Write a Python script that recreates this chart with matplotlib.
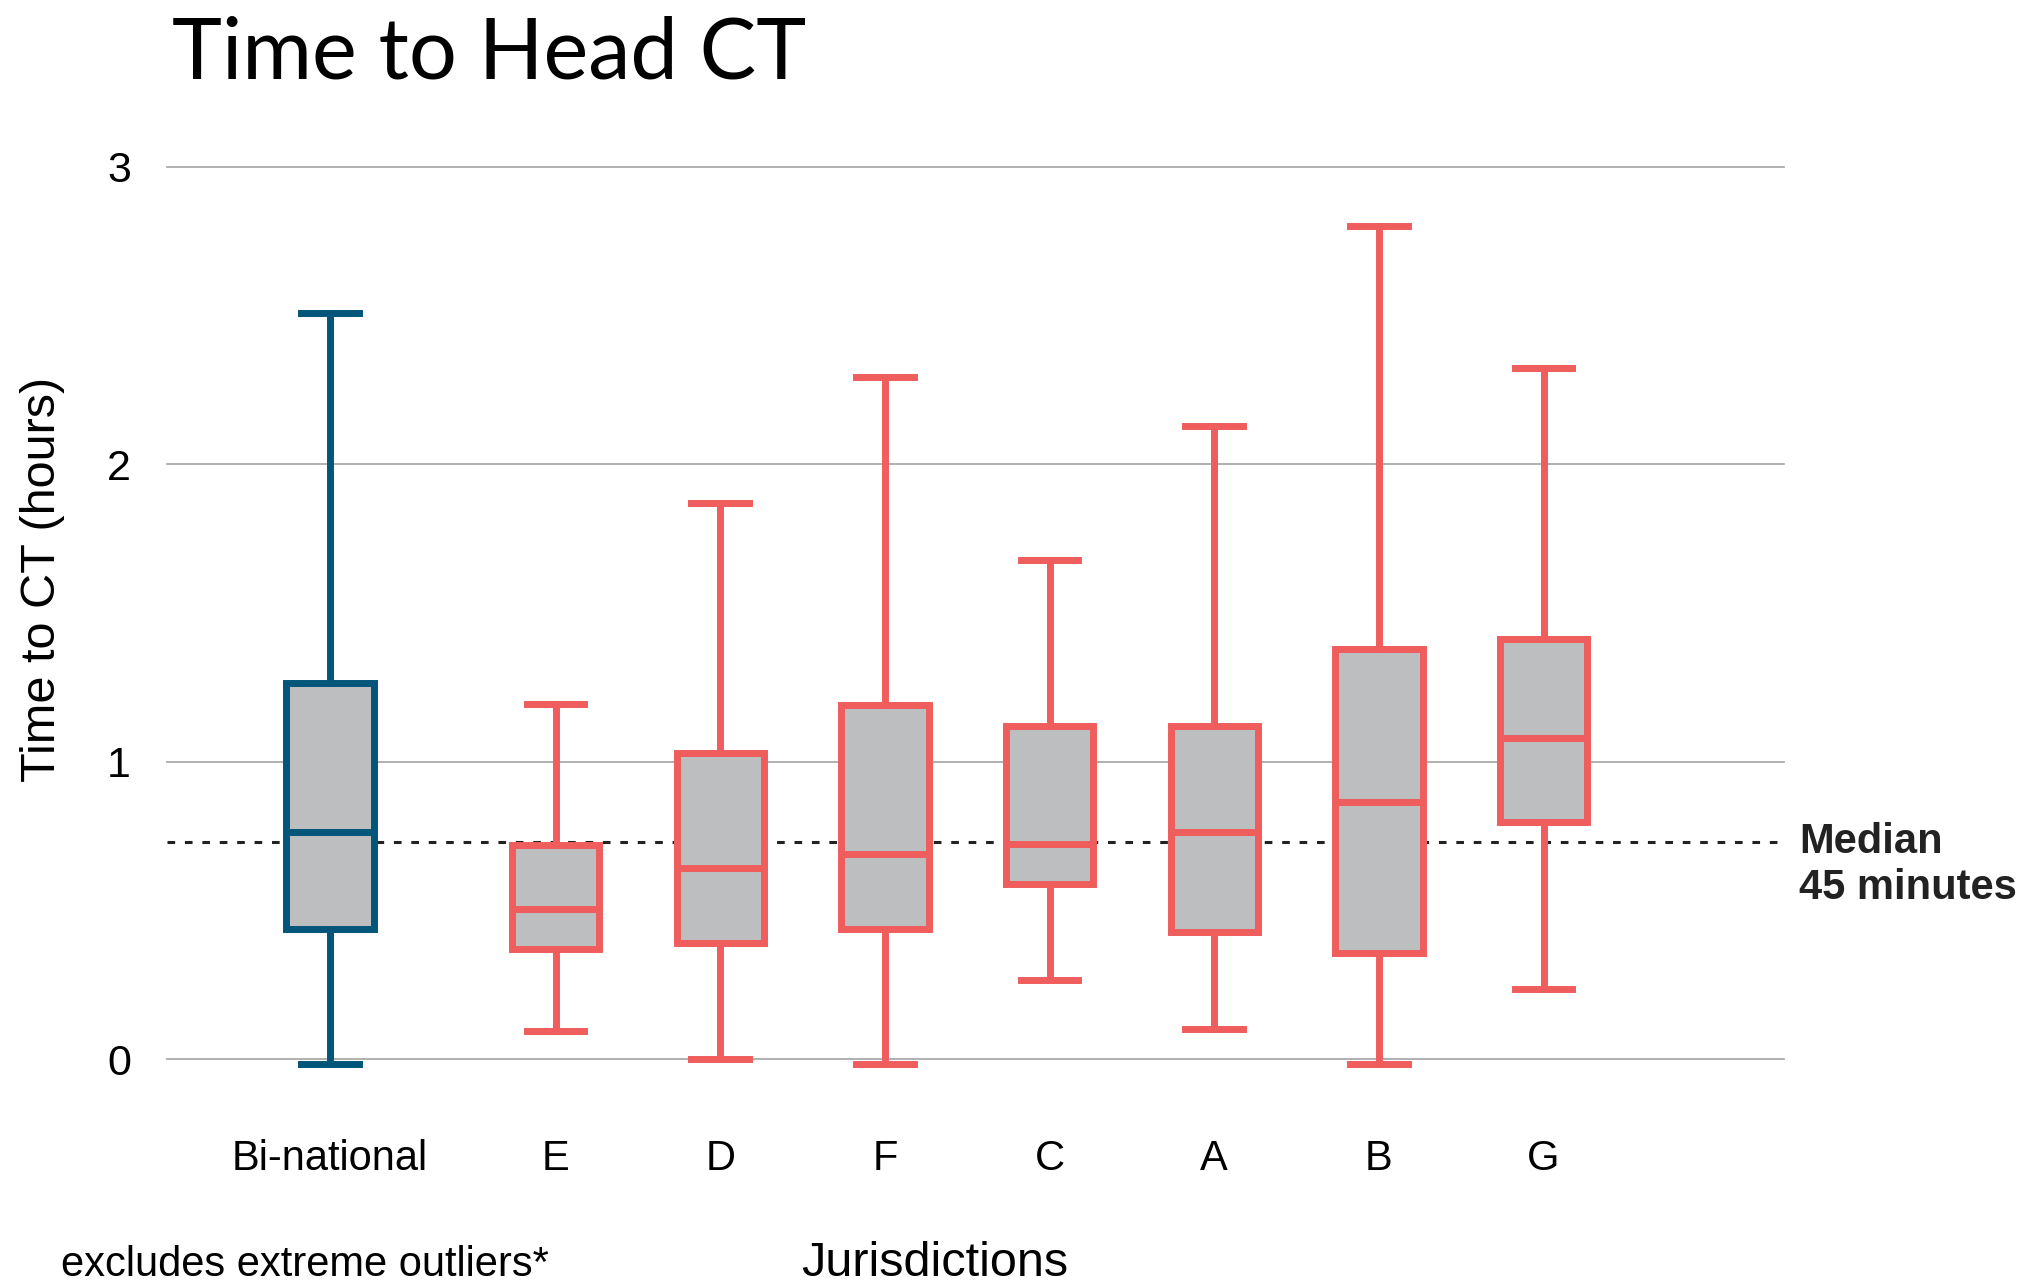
import numpy as np
import matplotlib
matplotlib.use("Agg")
import matplotlib.pyplot as plt

# values (hours)
groups = ["Bi-national", "E", "D", "F", "C", "A", "B", "G"]
whisker_low = [-0.017, 0.096, 0.0, -0.017, 0.266, 0.10, -0.017, 0.235]
q1 = [0.436, 0.37, 0.392, 0.436, 0.589, 0.427, 0.358, 0.798]
median = [0.763, 0.506, 0.641, 0.689, 0.724, 0.763, 0.863, 1.08]
q3 = [1.265, 0.72, 1.029, 1.19, 1.121, 1.121, 1.378, 1.413]
whisker_high = [2.51, 1.195, 1.871, 2.294, 1.679, 2.128, 2.80, 2.324]
overall_median = 0.73

blue = "#03557A"
red = "#EF5D5D"
fill = "#BDBEC0"

plt.rcParams['font.family'] = ['Liberation Sans', 'DejaVu Sans']

fig = plt.figure(figsize=(20.33, 12.84), dpi=100)
ax = fig.add_axes([0.0821, 0.152, 0.7954, 0.718])

# extra gap after the bi-national box
positions = np.r_[0, np.arange(1, len(groups)) + 0.37]

stats = []
for i, g in enumerate(groups):
    stats.append(dict(label=g, whislo=whisker_low[i], q1=q1[i], med=median[i],
                      q3=q3[i], whishi=whisker_high[i], fliers=[]))

for i, s in enumerate(stats):
    c = blue if i == 0 else red
    ax.bxp([s], positions=[positions[i]], widths=0.53, capwidths=0.35,
           patch_artist=True, showfliers=False,
           boxprops=dict(facecolor=fill, edgecolor=c, linewidth=5),
           medianprops=dict(color=c, linewidth=5),
           whiskerprops=dict(color=c, linewidth=5),
           capprops=dict(color=c, linewidth=5), zorder=3)

ax.axhline(overall_median, color="#222222", lw=2.2, dashes=(2.5, 3.2), zorder=2)

ax.set_ylim(-0.1, 3.0)
ax.set_xlim(-0.99, 8.83)
ax.set_yticks([0, 1, 2, 3])
ax.set_yticklabels(["0", "1", "2", "3"])
ax.set_xticks(positions)
ax.set_xticklabels(groups)
ax.yaxis.grid(True, color="#AAAAAA", lw=1.3, clip_on=False)
ax.set_axisbelow(True)
for sp in ax.spines.values():
    sp.set_visible(False)
ax.tick_params(axis="y", length=0, pad=26, labelsize=31)
ax.tick_params(axis="x", length=0, pad=36, labelsize=30)

ax.set_ylabel("Time to CT (hours)", fontsize=35)
ax.yaxis.set_label_coords(-0.063, 0.552)

fig.text(0.0846, 0.988, "Time to Head CT", fontsize=61, family=["Lato", "DejaVu Sans"],
         va="top")
fig.text(0.885, 0.36, "Median\n45 minutes", fontsize=30, fontweight="bold",
         color="#222222", va="top", linespacing=1.2)
fig.text(0.03, 0.0065, "excludes extreme outliers*", fontsize=30, va="baseline")
fig.text(0.46, 0.0065, "Jurisdictions", fontsize=35, ha="center", va="baseline")

fig.savefig("out.png", dpi=100)
